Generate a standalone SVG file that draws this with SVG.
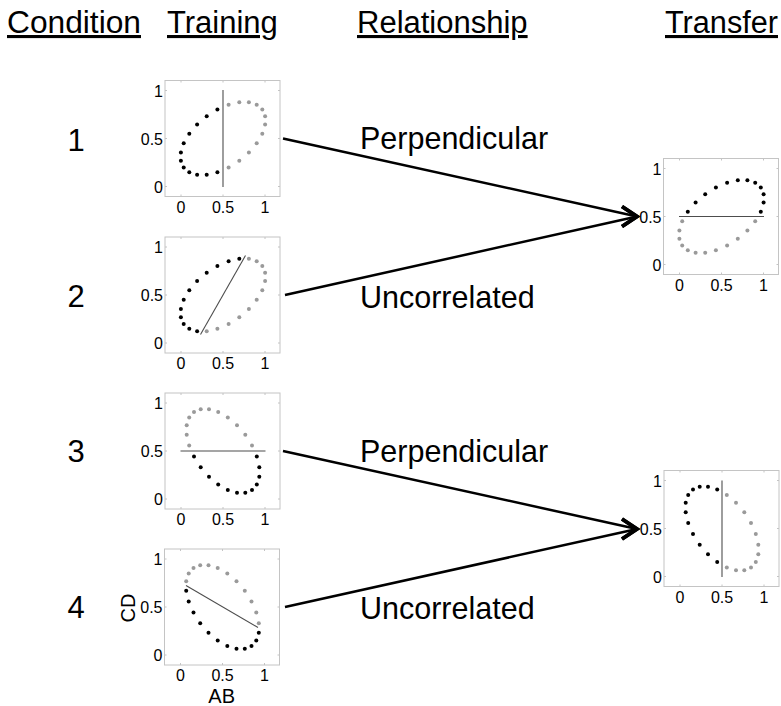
<svg xmlns="http://www.w3.org/2000/svg" xmlns:xlink="http://www.w3.org/1999/xlink" width="781" height="706" viewBox="0 0 781 706">
<style>
  text { font-family: "Liberation Sans", Arial, sans-serif; fill: #000; }
  .hdr { font-size: 31px; text-decoration: underline; }
  .num { font-size: 31px; text-anchor: middle; }
  .rel { font-size: 30.5px; }
  .ty { font-size: 16px; text-anchor: end; }
  .tx { font-size: 16px; text-anchor: middle; }
  .ax { font-size: 20px; text-anchor: middle; }
  .k { fill: #000; }
  .g { fill: #9a9a9a; }
  .split { stroke: #4d4d4d; stroke-width: 1.1; fill: none; }
  .conn { stroke: #000; stroke-width: 2.5; fill: none; marker-end: url(#chev); }
</style>
<defs>
  <marker id="chev" markerUnits="userSpaceOnUse" orient="0" viewBox="-20 -14 24 28" refX="0" refY="0" markerWidth="24" markerHeight="28">
    <path d="M-15,-10 L0,0 L-15,10" fill="none" stroke="#000" stroke-width="3.8" stroke-linejoin="miter"/>
  </marker>
  <g id="frame">
    <rect x="-58" y="-58" width="115" height="116" fill="#fff" stroke="#c4c4c4" stroke-width="1"/>
    <path d="M-42,58v-2M0,58v-2M42,58v-2M-42,-58v2M0,-58v2M42,-58v2M-58,-48h2M-58,0h2M-58,48h2M57,-48h-2M57,0h-2M57,48h-2" stroke="#c4c4c4" stroke-width="1"/>
  </g>
</defs>
<rect width="781" height="706" fill="#fff"/>

<g id="headers">
  <text class="hdr" x="7" y="33" textLength="134" lengthAdjust="spacingAndGlyphs">Condition</text>
  <text class="hdr" x="167" y="33">Training</text>
  <text class="hdr" x="357" y="33">Relationship</text>
  <text class="hdr" x="665" y="33" textLength="113" lengthAdjust="spacingAndGlyphs">Transfer</text>
</g>

<g id="conditions">
  <text class="num" x="76" y="151">1</text>
  <text class="num" x="76" y="307">2</text>
  <text class="num" x="76" y="462">3</text>
  <text class="num" x="76" y="618">4</text>
</g>

<g id="connectors">
  <line class="conn" x1="283" y1="138.5" x2="637" y2="216.5"/>
  <line class="conn" x1="285" y1="295" x2="637" y2="216.5"/>
  <line class="conn" x1="283" y1="451" x2="637" y2="529"/>
  <line class="conn" x1="285" y1="607" x2="637" y2="529"/>
</g>

<g id="relationships">
  <text class="rel" x="360" y="148.5">Perpendicular</text>
  <text class="rel" x="360" y="308">Uncorrelated</text>
  <text class="rel" x="360" y="461.5">Perpendicular</text>
  <text class="rel" x="360" y="619">Uncorrelated</text>
</g>

<!-- Training plot 1 -->
<g id="plot1" transform="translate(223,138.5)">
  <use xlink:href="#frame"/>
  <text class="ty" x="-60" y="-42">1</text><text class="ty" x="-60" y="6">0.5</text><text class="ty" x="-60" y="54">0</text>
  <text class="tx" x="-42" y="74">0</text><text class="tx" x="0" y="74">0.5</text><text class="tx" x="42" y="74">1</text>
  <line class="split" x1="0" y1="-48.5" x2="0" y2="48.5"/>
  <g class="g">
    <circle cx="42.1" cy="-22.2" r="2"/><circle cx="39.3" cy="-29" r="2"/><circle cx="33.7" cy="-33.7" r="2"/><circle cx="25.9" cy="-36.2" r="2"/><circle cx="16.3" cy="-36.2" r="2"/><circle cx="5.6" cy="-33.7" r="2"/>
    <circle cx="5.6" cy="29" r="2"/><circle cx="16.3" cy="22.2" r="2"/><circle cx="25.9" cy="14" r="2"/><circle cx="33.7" cy="4.8" r="2"/><circle cx="39.3" cy="-4.8" r="2"/><circle cx="42.1" cy="-14" r="2"/>
  </g>
  <g class="k">
    <circle cx="-5.6" cy="-29" r="2"/><circle cx="-16.3" cy="-22.2" r="2"/><circle cx="-25.9" cy="-14" r="2"/><circle cx="-33.7" cy="-4.8" r="2"/><circle cx="-39.3" cy="4.8" r="2"/><circle cx="-42.1" cy="14" r="2"/>
    <circle cx="-42.1" cy="22.2" r="2"/><circle cx="-39.3" cy="29" r="2"/><circle cx="-33.7" cy="33.7" r="2"/><circle cx="-25.9" cy="36.2" r="2"/><circle cx="-16.3" cy="36.2" r="2"/><circle cx="-5.6" cy="33.7" r="2"/>
  </g>
</g>

<!-- Training plot 2 -->
<g id="plot2" transform="translate(223,295)">
  <use xlink:href="#frame"/>
  <text class="ty" x="-60" y="-42">1</text><text class="ty" x="-60" y="6">0.5</text><text class="ty" x="-60" y="54">0</text>
  <text class="tx" x="-42" y="74">0</text><text class="tx" x="0" y="74">0.5</text><text class="tx" x="42" y="74">1</text>
  <line class="split" x1="-22.5" y1="39.5" x2="22.5" y2="-39.5"/>
  <g class="g">
    <circle cx="-16.3" cy="36.2" r="2"/><circle cx="-5.6" cy="33.7" r="2"/><circle cx="5.6" cy="29" r="2"/><circle cx="16.3" cy="22.2" r="2"/><circle cx="25.9" cy="14" r="2"/><circle cx="33.7" cy="4.8" r="2"/>
    <circle cx="39.3" cy="-4.8" r="2"/><circle cx="42.1" cy="-14" r="2"/><circle cx="42.1" cy="-22.2" r="2"/><circle cx="39.3" cy="-29" r="2"/><circle cx="33.7" cy="-33.7" r="2"/><circle cx="25.9" cy="-36.2" r="2"/>
  </g>
  <g class="k">
    <circle cx="16.3" cy="-36.2" r="2"/><circle cx="5.6" cy="-33.7" r="2"/><circle cx="-5.6" cy="-29" r="2"/><circle cx="-16.3" cy="-22.2" r="2"/><circle cx="-25.9" cy="-14" r="2"/><circle cx="-33.7" cy="-4.8" r="2"/>
    <circle cx="-39.3" cy="4.8" r="2"/><circle cx="-42.1" cy="14" r="2"/><circle cx="-42.1" cy="22.2" r="2"/><circle cx="-39.3" cy="29" r="2"/><circle cx="-33.7" cy="33.7" r="2"/><circle cx="-25.9" cy="36.2" r="2"/>
  </g>
</g>

<!-- Training plot 3 -->
<g id="plot3" transform="translate(223,451)">
  <use xlink:href="#frame"/>
  <text class="ty" x="-60" y="-42">1</text><text class="ty" x="-60" y="6">0.5</text><text class="ty" x="-60" y="54">0</text>
  <text class="tx" x="-42" y="74">0</text><text class="tx" x="0" y="74">0.5</text><text class="tx" x="42" y="74">1</text>
  <line class="split" x1="-42.5" y1="0" x2="42.5" y2="0"/>
  <g class="g">
    <circle cx="29" cy="-5.5" r="2"/><circle cx="22.3" cy="-16.2" r="2"/><circle cx="14" cy="-25.7" r="2"/><circle cx="4.8" cy="-33.5" r="2"/><circle cx="-4.8" cy="-39" r="2"/><circle cx="-14" cy="-41.8" r="2"/>
    <circle cx="-22.3" cy="-41.8" r="2"/><circle cx="-29" cy="-39" r="2"/><circle cx="-33.8" cy="-33.5" r="2"/><circle cx="-36.3" cy="-25.7" r="2"/><circle cx="-36.3" cy="-16.2" r="2"/><circle cx="-33.8" cy="-5.5" r="2"/>
  </g>
  <g class="k">
    <circle cx="-29" cy="5.5" r="2"/><circle cx="-22.3" cy="16.2" r="2"/><circle cx="-14" cy="25.7" r="2"/><circle cx="-4.8" cy="33.5" r="2"/><circle cx="4.8" cy="39" r="2"/><circle cx="14" cy="41.8" r="2"/>
    <circle cx="22.3" cy="41.8" r="2"/><circle cx="29" cy="39" r="2"/><circle cx="33.8" cy="33.5" r="2"/><circle cx="36.3" cy="25.7" r="2"/><circle cx="36.3" cy="16.2" r="2"/><circle cx="33.8" cy="5.5" r="2"/>
  </g>
</g>

<!-- Training plot 4 -->
<g id="plot4" transform="translate(222.5,607)">
  <use xlink:href="#frame"/>
  <text class="ty" x="-60" y="-42">1</text><text class="ty" x="-60" y="6">0.5</text><text class="ty" x="-60" y="54">0</text>
  <text class="tx" x="-42" y="74">0</text><text class="tx" x="0" y="74">0.5</text><text class="tx" x="42" y="74">1</text>
  <line class="split" x1="-36.5" y1="-21.5" x2="35.5" y2="20.5"/>
  <g class="g">
    <circle cx="36.3" cy="16.2" r="2"/><circle cx="33.8" cy="5.5" r="2"/><circle cx="29" cy="-5.5" r="2"/><circle cx="22.3" cy="-16.2" r="2"/><circle cx="14" cy="-25.7" r="2"/><circle cx="4.8" cy="-33.5" r="2"/>
    <circle cx="-4.8" cy="-39" r="2"/><circle cx="-14" cy="-41.8" r="2"/><circle cx="-22.3" cy="-41.8" r="2"/><circle cx="-29" cy="-39" r="2"/><circle cx="-33.8" cy="-33.5" r="2"/><circle cx="-36.3" cy="-25.7" r="2"/>
  </g>
  <g class="k">
    <circle cx="-36.3" cy="-16.2" r="2"/><circle cx="-33.8" cy="-5.5" r="2"/><circle cx="-29" cy="5.5" r="2"/><circle cx="-22.3" cy="16.2" r="2"/><circle cx="-14" cy="25.7" r="2"/><circle cx="-4.8" cy="33.5" r="2"/>
    <circle cx="4.8" cy="39" r="2"/><circle cx="14" cy="41.8" r="2"/><circle cx="22.3" cy="41.8" r="2"/><circle cx="29" cy="39" r="2"/><circle cx="33.8" cy="33.5" r="2"/><circle cx="36.3" cy="25.7" r="2"/>
  </g>
  <text class="ax" transform="translate(-87.8,1) rotate(-90)">CD</text>
  <text class="ax" x="-0.8" y="95.5">AB</text>
</g>

<!-- Transfer plot 1 -->
<g id="transfer1" transform="translate(721.5,216.5)">
  <use xlink:href="#frame"/>
  <text class="ty" x="-60" y="-42">1</text><text class="ty" x="-60" y="6">0.5</text><text class="ty" x="-60" y="54">0</text>
  <text class="tx" x="-42" y="74">0</text><text class="tx" x="0" y="74">0.5</text><text class="tx" x="42" y="74">1</text>
  <line class="split" x1="-42.5" y1="0" x2="42.5" y2="0"/>
  <g class="k">
    <circle cx="39.3" cy="-4.8" r="2"/><circle cx="42.1" cy="-14" r="2"/><circle cx="42.1" cy="-22.2" r="2"/><circle cx="39.3" cy="-29" r="2"/><circle cx="33.7" cy="-33.7" r="2"/><circle cx="25.9" cy="-36.2" r="2"/>
    <circle cx="16.3" cy="-36.2" r="2"/><circle cx="5.6" cy="-33.7" r="2"/><circle cx="-5.6" cy="-29" r="2"/><circle cx="-16.3" cy="-22.2" r="2"/><circle cx="-25.9" cy="-14" r="2"/><circle cx="-33.7" cy="-4.8" r="2"/>
  </g>
  <g class="g">
    <circle cx="-39.3" cy="4.8" r="2"/><circle cx="-42.1" cy="14" r="2"/><circle cx="-42.1" cy="22.2" r="2"/><circle cx="-39.3" cy="29" r="2"/><circle cx="-33.7" cy="33.7" r="2"/><circle cx="-25.9" cy="36.2" r="2"/>
    <circle cx="-16.3" cy="36.2" r="2"/><circle cx="-5.6" cy="33.7" r="2"/><circle cx="5.6" cy="29" r="2"/><circle cx="16.3" cy="22.2" r="2"/><circle cx="25.9" cy="14" r="2"/><circle cx="33.7" cy="4.8" r="2"/>
  </g>
</g>

<!-- Transfer plot 2 -->
<g id="transfer2" transform="translate(722,528.5)">
  <use xlink:href="#frame"/>
  <text class="ty" x="-60" y="-42">1</text><text class="ty" x="-60" y="6">0.5</text><text class="ty" x="-60" y="54">0</text>
  <text class="tx" x="-42" y="74">0</text><text class="tx" x="0" y="74">0.5</text><text class="tx" x="42" y="74">1</text>
  <line class="split" x1="0" y1="-48" x2="0" y2="48.5"/>
  <g class="g">
    <circle cx="36.3" cy="16.2" r="2"/><circle cx="33.8" cy="5.5" r="2"/><circle cx="29" cy="-5.5" r="2"/><circle cx="22.3" cy="-16.2" r="2"/><circle cx="14" cy="-25.7" r="2"/><circle cx="4.8" cy="-33.5" r="2"/>
    <circle cx="4.8" cy="39" r="2"/><circle cx="14" cy="41.8" r="2"/><circle cx="22.3" cy="41.8" r="2"/><circle cx="29" cy="39" r="2"/><circle cx="33.8" cy="33.5" r="2"/><circle cx="36.3" cy="25.7" r="2"/>
  </g>
  <g class="k">
    <circle cx="-4.8" cy="-39" r="2"/><circle cx="-14" cy="-41.8" r="2"/><circle cx="-22.3" cy="-41.8" r="2"/><circle cx="-29" cy="-39" r="2"/><circle cx="-33.8" cy="-33.5" r="2"/><circle cx="-36.3" cy="-25.7" r="2"/>
    <circle cx="-36.3" cy="-16.2" r="2"/><circle cx="-33.8" cy="-5.5" r="2"/><circle cx="-29" cy="5.5" r="2"/><circle cx="-22.3" cy="16.2" r="2"/><circle cx="-14" cy="25.7" r="2"/><circle cx="-4.8" cy="33.5" r="2"/>
  </g>
</g>
</svg>
